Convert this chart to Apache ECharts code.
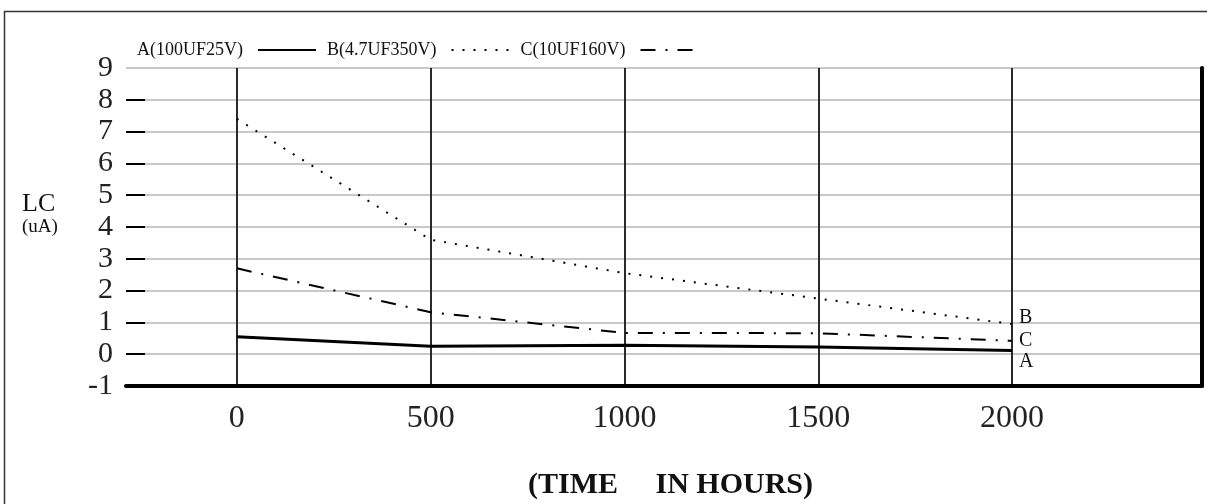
<!DOCTYPE html>
<html><head><meta charset="utf-8">
<script src="https://cdn.jsdelivr.net/npm/echarts@6/dist/echarts.min.js"></script>
<style>html,body{margin:0;padding:0;background:#fff}#c{width:1207px;height:504px}</style>
</head><body><div id="c"></div>
<script>
// ---- data ----
const hours = [0, 500, 1000, 1500, 2000];
const seriesNames = ['A(100UF25V)', 'B(4.7UF350V)', 'C(10UF160V)'];
const endTags = ['A', 'B', 'C'];
const valuesA = [0.55, 0.25, 0.28, 0.23, 0.12];
const valuesB = [7.4, 3.6, 2.55, 1.75, 0.95];
const valuesC = [2.7, 1.32, 0.67, 0.66, 0.42];
const xTickValues = [0, 500, 1000, 1500, 2000];
const yTickValues = [0, 1, 2, 3, 4, 5, 6, 7, 8];
const xAxisTitle = '(TIME     IN HOURS)';
const yAxisTitle = 'LC';
const yAxisUnit = '(uA)';

const FONT = "'Liberation Serif', 'DejaVu Serif', serif";
const pairs = vals => hours.map((h, i) => [h, vals[i]]);

const chart = echarts.init(document.getElementById('c'), null, {renderer: 'canvas'});
const endLabel = (tag, dy) => ({
  show: true, formatter: tag, distance: 7, offset: [0, dy],
  fontFamily: FONT, fontSize: 20, color: '#111'
});
chart.setOption({
  animation: false,
  backgroundColor: '#fff',
  graphic: [{
    type: 'rect', silent: true, z: -1,
    shape: {x: 4.5, y: 11.5, width: 1300, height: 600},
    style: {fill: 'none', stroke: '#333', lineWidth: 1.5}
  }],
  title: [
    {text: yAxisTitle, subtext: yAxisUnit, left: 22, top: 191, padding: 0, itemGap: 1,
     textStyle: {fontFamily: FONT, fontSize: 26, fontWeight: 'normal', color: '#111'},
     subtextStyle: {fontFamily: FONT, fontSize: 19, color: '#111'}},
    {text: xAxisTitle, left: 528, top: 470, padding: 0,
     textStyle: {fontFamily: FONT, fontSize: 30, fontWeight: 'bold', color: '#111'}}
  ],
  legend: {
    data: seriesNames, left: 137, top: 41, align: 'right', orient: 'horizontal',
    itemWidth: 58, itemHeight: 14, itemGap: 10, padding: 0,
    lineStyle: {width: 2},
    itemStyle: {opacity: 0, borderWidth: 0},
    textStyle: {fontFamily: FONT, fontSize: 18, color: '#111', padding: [0, 10, 0, 0]}
  },
  grid: {left: 126, right: 5, top: 68, bottom: 118},
  xAxis: {
    type: 'value', min: -286, max: 2490, z: 3,
    axisLine: {show: true, onZero: false, lineStyle: {color: '#000', width: 4}},
    axisTick: {show: false, customValues: xTickValues},
    axisLabel: {customValues: xTickValues, margin: 17, fontFamily: FONT, fontSize: 32, color: '#222',
                formatter: v => String(v)},
    splitLine: {show: true, lineStyle: {color: '#2a2a2a', width: 2}}
  },
  yAxis: [
    {type: 'value', min: -1, max: 9, interval: 1, z: 1,
     axisLine: {show: true, lineStyle: {color: '#c8c8c8', width: 2}},
     axisTick: {show: false},
     axisLabel: {margin: 13, fontFamily: FONT, fontSize: 30, color: '#222'},
     splitLine: {show: true, lineStyle: {color: '#c8c8c8', width: 2}}},
    {type: 'value', position: 'right', min: -1, max: 9, interval: 1, z: 4,
     axisLine: {show: true, lineStyle: {color: '#000', width: 4}},
     axisTick: {show: false}, axisLabel: {show: false}, splitLine: {show: false}},
    {type: 'value', position: 'left', min: -1, max: 9, interval: 1, z: 2,
     axisLine: {show: false},
     axisTick: {show: true, inside: true, length: 19, customValues: yTickValues, lineStyle: {color: '#000', width: 2}},
     axisLabel: {show: false}, splitLine: {show: false}}
  ],
  series: [
    {name: seriesNames[0], type: 'line', data: pairs(valuesA), symbol: 'none', z: 5,
     lineStyle: {color: '#000', width: 3, type: 'solid'}, itemStyle: {color: '#000'},
     endLabel: endLabel(endTags[0], 11)},
    {name: seriesNames[1], type: 'line', data: pairs(valuesB), symbol: 'none', z: 5,
     lineStyle: {color: '#000', width: 2, type: [2, 9]}, itemStyle: {color: '#000'},
     endLabel: endLabel(endTags[1], -6)},
    {name: seriesNames[2], type: 'line', data: pairs(valuesC), symbol: 'none', z: 5,
     lineStyle: {color: '#000', width: 2, type: [15, 10, 2, 10]}, itemStyle: {color: '#000'},
     endLabel: endLabel(endTags[2], 0)}
  ]
});
</script></body></html>
